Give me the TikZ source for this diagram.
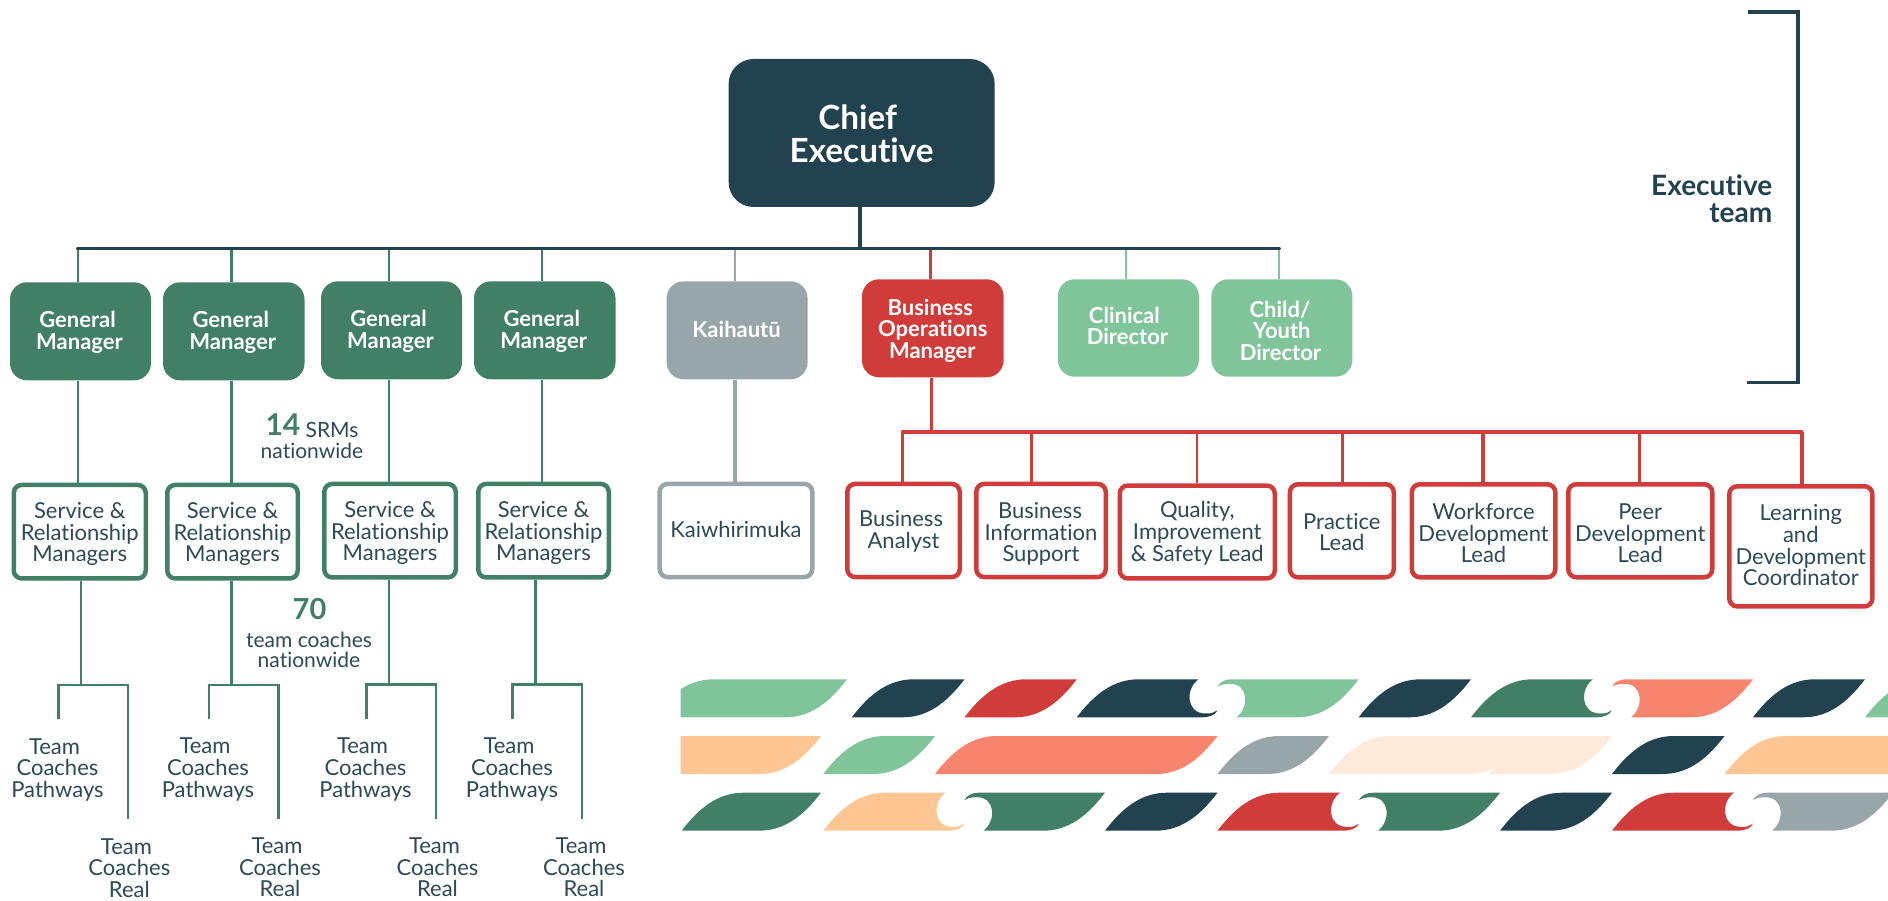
\documentclass[tikz,border=0pt]{standalone}
\usepackage{fontspec}
\setmainfont{Lato}[Ligatures=CommonOff]
\definecolor{cdark}{HTML}{224250}
\definecolor{ctext}{HTML}{2C4A57}
\definecolor{cgreen}{HTML}{418067}
\definecolor{clight}{HTML}{80C49A}
\definecolor{cred}{HTML}{D03C3A}
\definecolor{cgray}{HTML}{98A6AA}
\definecolor{corange}{HTML}{FFC592}
\definecolor{ccoral}{HTML}{F7856D}
\definecolor{ccream}{HTML}{FFEAD9}
\newcommand{\ks}[1]{\hspace*{#1pt}}
\tikzset{
  solidbox/.style={rounded corners=17pt,inner sep=0pt,align=center,text=white,
    font=\fontsize{22}{21.5}\selectfont\bfseries},
  linebox/.style={rounded corners=8pt,inner sep=0pt,align=center,text=ctext,fill=white,line width=4.5pt,
    font=\fontsize{22}{21.7}\selectfont},
  freetext/.style={inner sep=0pt,align=center,text=ctext,font=\fontsize{22}{21.7}\selectfont},
  thin link/.style={line width=2.3pt},
  thick link/.style={line width=3.4pt},
  main bus/.style={line width=3.9pt},
  txtdown/.style={execute at begin node={\rule{0pt}{#1pt}}},
  txtup/.style={execute at end node={\rule[\dimexpr-#1pt-#1pt\relax]{0pt}{\dimexpr#1pt+#1pt\relax}}},
}
\newcommand{\solidnode}[7]{%
  \pgfmathsetmacro\cx{(#3+#5)/2}\pgfmathsetmacro\cy{(#4+#6)/2}%
  \pgfmathsetmacro\bw{#5-#3}\pgfmathsetmacro\bh{#6-#4}%
  \node[solidbox,#1,minimum width=\bw pt,minimum height=\bh pt] (#2) at (\cx,\cy) {#7};}
\newcommand{\linenode}[7]{%
  \pgfmathsetmacro\cx{(#3+#5)/2}\pgfmathsetmacro\cy{(#4+#6)/2}%
  \pgfmathsetmacro\bw{#5-#3-4.5}\pgfmathsetmacro\bh{#6-#4-4.5}%
  \node[linebox,#1,minimum width=\bw pt,minimum height=\bh pt] (#2) at (\cx,\cy) {#7};}
\newcommand{\leaf}[3]{\fill[#1] (#2,38) .. controls ({#2+19},13) and ({#2+38},0) .. ({#2+62},0) -- (#3,0)
  .. controls ({#3-19},25) and ({#3-38},38) .. ({#3-62},38) -- cycle;}
\newcommand{\waveL}[3]{\fill[#1] (#2,38) .. controls ({#2+19},13) and ({#2+38},0) .. ({#2+62},0) -- ({#3-19},0)
  .. controls ({#3-32},9) and ({#3-32},34) .. ({#3-12},34.2) .. controls ({#3-6},34.5) and ({#3-3},33) .. (#3,31)
  .. controls ({#3-2},35.5) and ({#3-8},38) .. ({#3-16},38) -- cycle;}
\newcommand{\waveR}[3]{\fill[#1] ({#2+19},38) .. controls ({#2+32},28) and ({#2+31},4) .. ({#2+12},4.5)
  .. controls ({#2+7},4.5) and ({#2+3},5.5) .. (#2,7.5) .. controls ({#2+2},3) and ({#2+7},0) .. ({#2+14},0) -- (#3,0)
  .. controls ({#3-19},25) and ({#3-38},38) .. ({#3-62},38) -- cycle;}
\begin{document}
\begin{tikzpicture}[x=1pt,y=-1pt]
\useasboundingbox[fill=white] (0,0) rectangle (1888,901);

% top level
\solidnode{fill=cdark,rounded corners=25pt,font=\fontsize{33.3}{33.4}\selectfont\bfseries,txtdown=59.9}{chief}{728.6}{59}{994.7}{207}{Chief\ks{8}\\Executive}
\solidnode{fill=cgreen,txtdown=39.9}{gma}{10}{282.3}{151}{380.3}{General\ks{6}\\Manager\ks{2}}
\solidnode{fill=cgreen,txtdown=39.9}{gmb}{163}{282.3}{304.5}{380.3}{General\ks{6}\\Manager\ks{2}}
\solidnode{fill=cgreen,txtdown=39.9}{gmc}{321}{281.3}{462}{379.3}{General\ks{6}\\Manager\ks{2}}
\solidnode{fill=cgreen,txtdown=39.9}{gmd}{474}{281.3}{615.5}{379.3}{General\ks{6}\\Manager\ks{2}}
\solidnode{fill=cgray,txtup=1}{kai}{666.6}{281.3}{807.6}{379.3}{Kaihautū\ks{1}}
\solidnode{fill=cred,txtdown=63.8}{bom}{862}{279.3}{1003.6}{377.3}{Business\ks{5}\\Operations\ks{2}\\Manager\ks{1}}
\solidnode{fill=clight,txtup=2.4}{cli}{1057.8}{279.3}{1199}{376.7}{Clinical\ks{8}\\Director\ks{2}}
\solidnode{fill=clight,txtdown=64.3}{chi}{1211.4}{279.3}{1352.4}{376.7}{Child/\ks{4}\\Youth\ks{3}\\Director\ks{3}}

% second level
\linenode{draw=cgreen,txtdown=64.2}{srma}{11.5}{482.7}{148}{580.7}{Service \&\\Relationship\\Managers}
\linenode{draw=cgreen,txtdown=64.2}{srmb}{165}{482.7}{300}{580.7}{Service \&\\Relationship\\Managers}
\linenode{draw=cgreen,txtdown=64.2}{srmc}{322}{481.7}{458}{579.7}{Service \&\\Relationship\\Managers}
\linenode{draw=cgreen,txtdown=64.2}{srmd}{476}{481.7}{611}{579.7}{Service \&\\Relationship\\Managers}
\linenode{draw=cgray,txtup=1}{kwm}{657.4}{481.7}{814.5}{579.3}{Kaiwhirimuka}
\linenode{draw=cred,txtdown=39.7}{ba}{845}{481.7}{962}{579.3}{Business\ks{5}\\Analyst}
\linenode{draw=cred,txtdown=66.6}{bis}{974}{481.7}{1108}{579.3}{Business\ks{2}\\Information\\Support}
\linenode{draw=cred,txtdown=61.8}{qis}{1117.5}{483.3}{1277}{580.7}{Quality,\\Improvement\\\& Safety Lead}
\linenode{draw=cred,txtdown=40.1}{pra}{1287.7}{482}{1396}{579.5}{Practice\\Lead}
\linenode{draw=cred,txtdown=64.2}{wfd}{1409.6}{482}{1557.5}{579.5}{Workforce\\Development\\Lead}
\linenode{draw=cred,txtdown=64.2}{pdl}{1566}{482}{1714.5}{579.5}{Peer\\Development\\Lead}
\linenode{draw=cred,txtup=1}{lnd}{1727}{484}{1874.6}{608.7}{Learning\\and\\Development\\Coordinator}

% bus coordinates
\coordinate (barL) at (78,248.5);
\coordinate (barR) at (1279,248.5);
\coordinate (xb) at (231.4,248.5);
\coordinate (xc) at (389,248.5);
\coordinate (xd) at (542,248.5);
\coordinate (xk) at (735,248.5);
\coordinate (xo) at (930,248.5);
\coordinate (xl) at (1125.8,248.5);
\coordinate (xm) at (860.4,248.5);
\draw[thin link,cgreen] (barL) -- (barL|-gma.north);
\draw[thin link,cgreen] (xb) -- (xb|-gmb.north);
\draw[thin link,cgreen] (xc) -- (xc|-gmc.north);
\draw[thin link,cgreen] (xd) -- (xd|-gmd.north);
\draw[thin link,cgray] (xk) -- (xk|-kai.north);
\draw[line width=3pt,cred] (xo) -- (xo|-bom.north);
\draw[thin link,clight] (xl) -- (xl|-cli.north);
\draw[thin link,clight] (barR) -- (barR|-chi.north);
\draw[main bus,cdark,line cap=round] (barL) -- (barR);
\draw[main bus,cdark] (xm|-chief.south) -- (xm);

% GM to SRM
\draw[thin link,cgreen] (barL|-gma.south) -- (barL|-srma.north);
\draw[thin link,cgreen] (xb|-gmb.south) -- (xb|-srmb.north);
\draw[thin link,cgreen] (xc|-gmc.south) -- (xc|-srmc.north);
\draw[thin link,cgreen] (xd|-gmd.south) -- (xd|-srmd.north);
\draw[thick link,cgray] (xk|-kai.south) -- (xk|-kwm.north);

% team coach branches
\foreach \nm/\sx/\lx/\rx/\yy in {srma/81/58.4/127.8/685,srmb/231.4/209/278.4/685,srmc/389/366.5/436/684.5,srmd/535.5/512.6/582/684.5}{
  \coordinate (j\nm) at (\sx,\yy);
  \coordinate (l\nm) at (\lx,\yy);
  \coordinate (r\nm) at (\rx,\yy);
  \coordinate (le\nm) at (\lx,719.3);
  \coordinate (re\nm) at (\rx,818.7);
  \draw[thin link,cgreen] (j\nm|-\nm.south) -- (j\nm);
  \draw[thin link,cgreen] (le\nm) -- (l\nm) -- (r\nm) -- (re\nm);
}

% red bus
\coordinate (rbL) at (902.6,432);
\coordinate (rbR) at (1801.7,432);
\coordinate (rb) at (931.6,432);
\coordinate (rc) at (1031.6,432);
\coordinate (rd) at (1197,432);
\coordinate (re) at (1342.5,432);
\coordinate (rf) at (1483,432);
\coordinate (rg) at (1639.5,432);
\draw[line width=2.8pt,cred] (rb|-bom.south) -- (rb);
\draw[thin link,cred] (rbL) -- (rbL|-ba.north);
\draw[thin link,cred] (rc) -- (rc|-bis.north);
\draw[thin link,cred] (rd) -- (rd|-qis.north);
\draw[thin link,cred] (re) -- (re|-pra.north);
\draw[line width=3.6pt,cred] (rf) -- (rf|-wfd.north);
\draw[line width=3.6pt,cred] (rg) -- (rg|-pdl.north);
\draw[line width=3.6pt,cred] (rbR) -- (rbR|-lnd.north);
\draw[line width=3.6pt,cred,line cap=round] (rbL) -- (rbR);

% free labels
\node[freetext] (tpa) at (57.5,770) {Team\ks{6}\\Coaches\\Pathways};
\node[freetext] (tpb) at (208,769.3) {Team\ks{6}\\Coaches\\Pathways};
\node[freetext] (tpc) at (365.5,769.3) {Team\ks{6}\\Coaches\\Pathways};
\node[freetext] (tpd) at (512,769.3) {Team\ks{6}\\Coaches\\Pathways};
\node[freetext] (tra) at (129.4,868.1) {Team\ks{6}\\Coaches\\Real};
\node[freetext] (trb) at (280,867.3) {Team\ks{6}\\Coaches\\Real};
\node[freetext] (trc) at (437.5,867.3) {Team\ks{6}\\Coaches\\Real};
\node[freetext] (trd) at (584,867.3) {Team\ks{6}\\Coaches\\Real};
\node[freetext,font=\fontsize{21}{20.6}\selectfont] (srms) at (312,436) {\raisebox{2.8pt}{\fontsize{30}{30}\selectfont\bfseries\color{cgreen}14} SRMs\\nationwide};
\node[freetext,font=\fontsize{29}{29}\selectfont\bfseries,text=cgreen] (nsev) at (309.5,609) {70};
\node[freetext,font=\fontsize{21}{20.6}\selectfont] (coach) at (309,650) {team coaches\\nationwide};

% bracket
\coordinate (brTL) at (1748,12);
\coordinate (brTR) at (1798,12);
\coordinate (brBR) at (1798,382.6);
\coordinate (brBL) at (1746.5,382.6);
\draw[line width=3.2pt,cdark,line join=miter] (brTL) -- (brTR) -- (brBR) -- (brBL);
\node[inner sep=0pt,anchor=east,align=right,text=cdark,font=\fontsize{28}{27}\selectfont\bfseries] (ext) at (1772.5,198.5) {Executive\\team};

% ribbons
\begin{scope}
\clip (680.6,670) rectangle (1888,840);
\begin{scope}[shift={(0,679.3)}]
\leaf{clight}{652}{847}
\leaf{cdark}{851.8}{964.5}
\leaf{cred}{964.5}{1076.8}
\waveL{cdark}{1076.8}{1217.5}
\waveR{clight}{1217.5}{1358.7}
\leaf{cdark}{1358.7}{1471}
\waveL{cgreen}{1471}{1612}
\waveR{ccoral}{1612}{1753}
\leaf{cdark}{1753}{1865}
\leaf{clight}{1865}{1990}
\end{scope}
\begin{scope}[shift={(0,736)}]
\leaf{corange}{600}{821}
\leaf{clight}{823.3}{935}
\leaf{ccoral}{935}{1217.5}
\leaf{cgray}{1217.5}{1329}
\leaf{ccream}{1329}{1612}
\fill[white] (1467,38) .. controls (1480,38) and (1490,35) .. (1497,30.7) -- (1489,38) -- cycle;
\leaf{cdark}{1612}{1724.5}
\leaf{corange}{1724.5}{2000}
\end{scope}
\begin{scope}[shift={(0,792.7)}]
\leaf{cgreen}{681.7}{821}
\waveL{corange}{823.3}{964.5}
\waveR{cgreen}{964.5}{1105}
\leaf{cdark}{1105}{1217.5}
\waveL{cred}{1217.5}{1359}
\waveR{cgreen}{1359}{1500}
\leaf{cdark}{1500}{1612}
\waveL{cred}{1612}{1753}
\waveR{cgray}{1753}{1893}
\end{scope}
\end{scope}
\end{tikzpicture}
\end{document}
